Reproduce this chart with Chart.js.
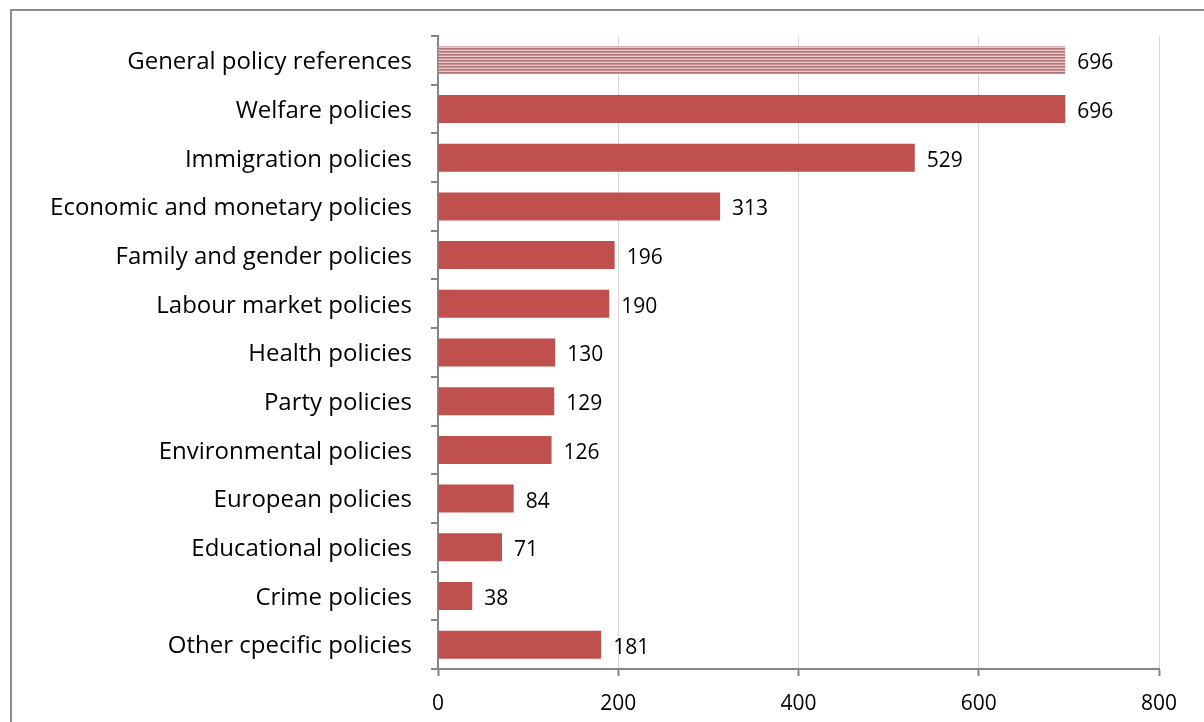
<!DOCTYPE html>
<html>
<head>
<meta charset="utf-8">
<script src="https://cdn.jsdelivr.net/npm/chart.js@4"></script>
<style>
    html, body { margin: 0; padding: 0; overflow: hidden; background: #fff; }
    #frame { position: absolute; left: 10px; top: 9px; width: 1400px; height: 900px; border: 2px solid #8c8c8c; }
    #wrap { position: absolute; left: 0; top: 0; width: 1204px; height: 722px; }
</style>
</head>
<body>
<div id="frame"></div>
<div id="wrap"><canvas id="chart"></canvas></div>
<script>
// Dữ liệu
const categories = [
    'General policy references', 'Welfare policies', 'Immigration policies',
    'Economic and monetary policies', 'Family and gender policies', 'Labour market policies',
    'Health policies', 'Party policies', 'Environmental policies', 'European policies',
    'Educational policies', 'Crime policies', 'Other cpecific policies'
];
const counts = [696, 696, 529, 313, 196, 190, 130, 129, 126, 84, 71, 38, 181];
const xTicks = [0, 200, 400, 600, 800];

// Hatch cho cột đầu tiên
function makeStripes() {
    var c = document.createElement('canvas');
    c.width = 4; c.height = 3;
    var g = c.getContext('2d');
    g.fillStyle = '#ad7575'; g.fillRect(0, 0, 4, 1);
    g.fillStyle = '#c59595'; g.fillRect(0, 1, 4, 1);
    g.fillStyle = '#e8c8c8'; g.fillRect(0, 2, 4, 1);
    return g.createPattern(c, 'repeat');
}
const colors = counts.map((v, i) => i === 0 ? makeStripes() : '#c0504d');

// Nhãn giá trị bên phải cột
const valueLabels = {
    id: 'valueLabels',
    afterDatasetsDraw(chart) {
        const ctx = chart.ctx;
        const meta = chart.getDatasetMeta(0);
        ctx.save();
        ctx.font = '21px "Open Sans", sans-serif';
        ctx.fillStyle = '#000';
        ctx.textBaseline = 'middle';
        ctx.textAlign = 'left';
        meta.data.forEach((bar, i) => {
            ctx.fillText(String(counts[i]), bar.x + 12, bar.y + 3);
        });
        ctx.restore();
    }
};

new Chart(document.getElementById('chart'), {
    type: 'bar',
    data: {
        labels: categories,
        datasets: [{
            data: counts,
            backgroundColor: colors,
            borderWidth: 0,
            categoryPercentage: 1,
            barPercentage: 0.575
        }]
    },
    options: {
        indexAxis: 'y',
        responsive: true,
        maintainAspectRatio: false,
        animation: false,
        layout: {padding: {top: 36, right: 45, left: 0, bottom: 0}},
        plugins: {legend: {display: false}, tooltip: {enabled: false}},
        scales: {
            x: {
                min: 0, max: 800,
                afterBuildTicks: function (scale) {
                    scale.ticks = xTicks.map(v => ({value: v}));
                },
                afterFit: function (scale) { scale.height = 53; },
                grid: {color: '#d9d9d9', lineWidth: 1, tickLength: 7, tickColor: '#868686', tickWidth: 2},
                border: {color: '#868686', width: 2},
                ticks: {color: '#000', font: {family: '"Open Sans", sans-serif', size: 21}, padding: 15}
            },
            y: {
                afterFit: function (scale) { scale.width = 438; },
                grid: {drawOnChartArea: false, tickLength: 7, color: '#868686', lineWidth: 2},
                border: {color: '#868686', width: 2},
                ticks: {color: '#000', font: {family: '"Open Sans", sans-serif', size: 24}, padding: 19, labelOffset: 2}
            }
        }
    },
    plugins: [valueLabels]
});
</script>
</body>
</html>
